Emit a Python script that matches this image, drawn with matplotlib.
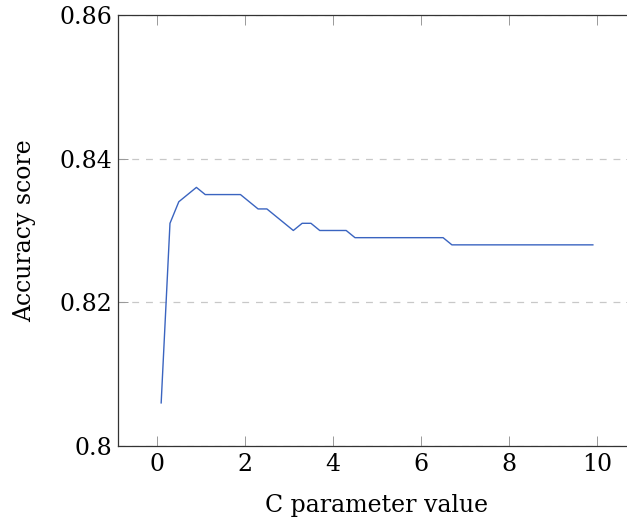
"""
Accuracy vs C parameter (pgfplots style)
"""
import matplotlib
matplotlib.use('Agg')
import matplotlib.pyplot as plt

plt.rcParams['font.family'] = ['DejaVu Serif']

# data
c_values = [0.1, 0.3, 0.5, 0.7, 0.9, 1.1, 1.3, 1.5, 1.7, 1.9,
            2.1, 2.3, 2.5, 2.7, 2.9, 3.1, 3.3, 3.5, 3.7, 3.9,
            4.1, 4.3, 4.5, 4.7, 4.9, 5.1, 5.3, 5.5, 5.7, 5.9,
            6.1, 6.3, 6.5, 6.7, 6.9, 7.1, 7.3, 7.5, 7.7, 7.9,
            8.1, 8.3, 8.5, 8.7, 8.9, 9.1, 9.3, 9.5, 9.7, 9.9]
accuracy = [0.806, 0.831, 0.834, 0.835, 0.836, 0.835, 0.835, 0.835, 0.835, 0.835,
            0.834, 0.833, 0.833, 0.832, 0.831, 0.830, 0.831, 0.831, 0.830, 0.830,
            0.830, 0.830, 0.829, 0.829, 0.829, 0.829, 0.829, 0.829, 0.829, 0.829,
            0.829, 0.829, 0.829, 0.828, 0.828, 0.828, 0.828, 0.828, 0.828, 0.828,
            0.828, 0.828, 0.828, 0.828, 0.828, 0.828, 0.828, 0.828, 0.828, 0.828]
x_ticks = [0, 2, 4, 6, 8, 10]
y_ticks = [0.80, 0.82, 0.84, 0.86]
y_tick_labels = ['0.8', '0.82', '0.84', '0.86']

fig = plt.figure(figsize=(6.27, 5.22), dpi=100)
# axes run past the right edge, like the cropped original
ax = fig.add_axes([0.1882, 0.1456, 0.8262, 0.8257])

ax.plot(c_values, accuracy, color='#3a64c0', linewidth=1.0)

ax.set_xlim(-0.88, 10.88)
ax.set_ylim(0.80, 0.86)
ax.set_xticks(x_ticks)
ax.set_yticks(y_ticks)
ax.set_yticklabels(y_tick_labels)

ax.grid(axis='y', color='#c8c8c8', linestyle=(0, (5.5, 5.5)), linewidth=0.9)
ax.set_axisbelow(True)

for sp in ax.spines.values():
    sp.set_color('#333333')
    sp.set_linewidth(0.9)

ax.tick_params(direction='in', length=7, width=0.7, color='#999999',
               top=True, right=True, labelsize=17)
ax.tick_params(axis='y', pad=4)
ax.tick_params(axis='x', pad=5)

ax.set_xlabel('C parameter value', fontsize=17, labelpad=13)
ax.set_ylabel('Accuracy score', fontsize=17, labelpad=17)

plt.savefig('out.png', dpi=100)
plt.close()
